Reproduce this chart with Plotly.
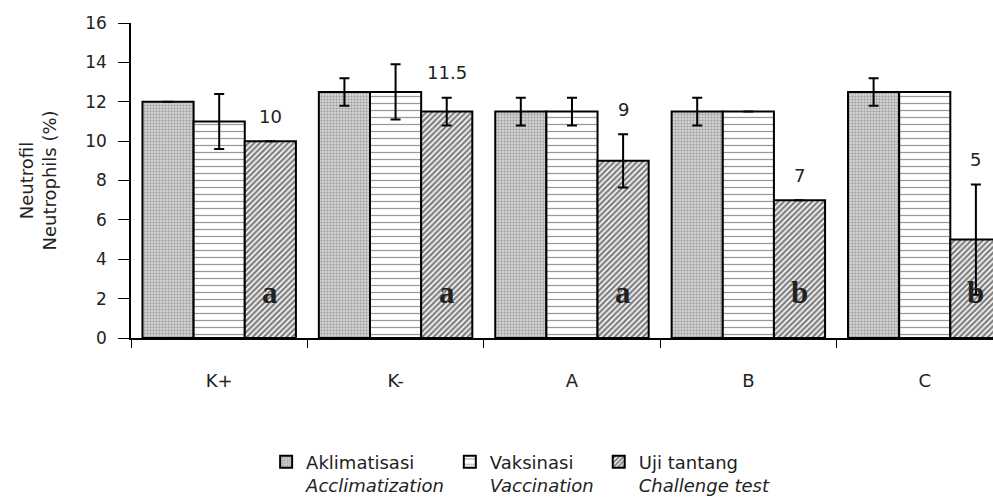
import plotly.graph_objects as go

# Group labels and series
categories = ["K+", "K-", "A", "B", "C"]
series_names = ["Aklimatisasi", "Vaksinasi", "Uji tantang"]
series_names_en = ["Acclimatization", "Vaccination", "Challenge test"]

aklimatisasi = [12, 12.5, 11.5, 11.5, 12.5]
vaksinasi = [11, 12.5, 11.5, 11.5, 12.5]
uji_tantang = [10, 11.5, 9, 7, 5]

# Standard deviations (0 = no bar shown)
err_aklimatisasi = [0, 0.7, 0.7, 0.7, 0.7]
err_vaksinasi = [1.4, 1.4, 0.7, 0, 0]
err_uji_tantang = [0, 0.7, 1.35, 0, 2.8]

# Significance letters for the challenge-test bars
sig_letters = ["a", "a", "a", "b", "b"]

y_ticks = [0, 2, 4, 6, 8, 10, 12, 14, 16]

FONT = "DejaVu Sans"
TEXT = "#222222"

patterns = [
    dict(shape=".", size=3, solidity=0.35, fgcolor="#606060", bgcolor="#d2d2d2"),
    dict(shape="-", size=7, solidity=0.18, fgcolor="#333333", bgcolor="white", fgopacity=0.5),
    dict(shape="/", size=4, solidity=0.6, fgcolor="black", bgcolor="white"),
]
values = [aklimatisasi, vaksinasi, uji_tantang]
errors = [err_aklimatisasi, err_vaksinasi, err_uji_tantang]

fig = go.Figure()
for name, name_en, vals, errs, pat in zip(series_names, series_names_en, values, errors, patterns):
    fig.add_trace(go.Bar(
        x=categories,
        y=vals,
        name=f"{name}<br><i>{name_en}</i>",
        marker=dict(color="white", pattern=pat, line=dict(color="black", width=2)),
        error_y=dict(type="data", array=errs, visible=True, color="black",
                     thickness=2, width=5),
    ))

# Value labels above the challenge-test bars and significance letters inside them
annotations = []
for i, (v, e, letter) in enumerate(zip(uji_tantang, err_uji_tantang, sig_letters)):
    xpos = i + 0.87 / 3
    annotations.append(dict(
        x=xpos, y=v + e, xref="x", yref="y", text=f"{v:g}", showarrow=False,
        yshift=25, font=dict(family=FONT, size=18, color=TEXT),
    ))
    annotations.append(dict(
        x=xpos, y=2.3, xref="x", yref="y", text=f"<b>{letter}</b>", showarrow=False,
        font=dict(family="Liberation Serif", size=31, color=TEXT),
    ))

# Two-line y-axis title
annotations.append(dict(
    x=-0.109, y=0.5, xref="paper", yref="paper", xanchor="center", yanchor="middle",
    text="Neutrofil<br>Neutrophils (%)", textangle=-90, showarrow=False,
    font=dict(family=FONT, size=18, color=TEXT),
))

fig.update_layout(
    width=993, height=504,
    margin=dict(l=131, r=0, t=23, b=161),
    paper_bgcolor="white", plot_bgcolor="white",
    barmode="group", bargap=0.13, bargroupgap=0,
    font=dict(family=FONT, size=18, color=TEXT),
    showlegend=True,
    legend=dict(
        orientation="h", x=0.452, xanchor="center", y=-0.335, yanchor="top",
        font=dict(family=FONT, size=18, color=TEXT),
        valign="top", itemwidth=30, traceorder="normal",
    ),
    annotations=annotations,
)

fig.update_xaxes(
    type="category", range=[-0.5, 4.387],
    showline=True, linecolor="black", linewidth=1.5,
    ticks="outside", tickson="boundaries", ticklen=8, tickcolor="black",
    ticklabelstandoff=26, showgrid=False, zeroline=False,
)
fig.update_yaxes(
    range=[0, 16], tickvals=y_ticks, tickfont=dict(family=FONT, size=17, color=TEXT),
    showline=True, linecolor="black", linewidth=1.5,
    ticks="outside", ticklen=11, tickcolor="black", ticklabelstandoff=8,
    showgrid=False, zeroline=False,
)

fig.write_html("out.html")
